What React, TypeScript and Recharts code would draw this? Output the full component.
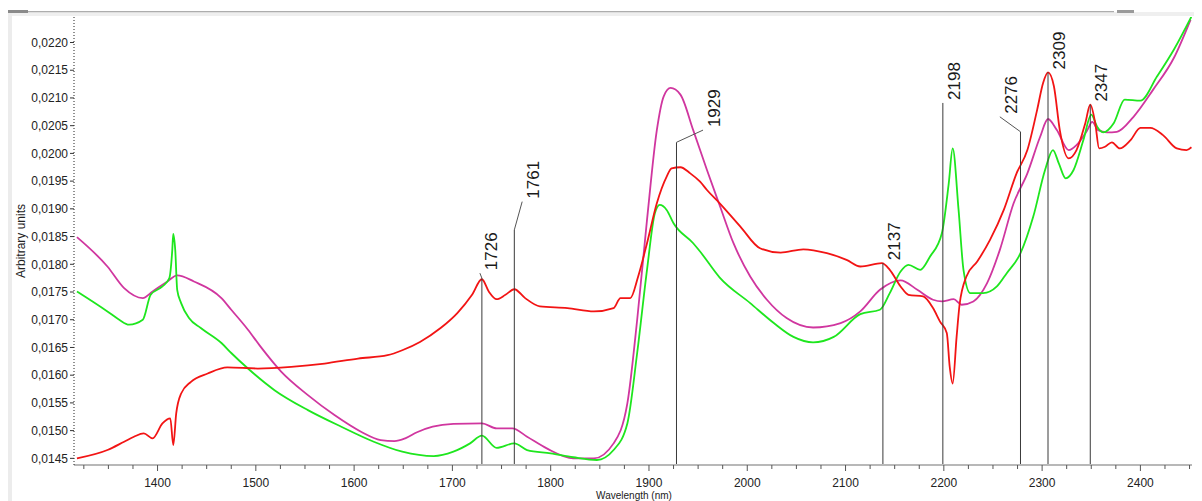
import React from 'react';
import { LineChart, Line, XAxis, YAxis, ReferenceLine, ReferenceDot } from 'recharts';

// ---- Data (wavelength in nm, arbitrary units) ----
const redWl = [1318, 1349, 1366, 1376, 1386, 1395, 1405, 1413, 1416, 1419, 1424, 1434, 1451, 1471, 1502, 1536, 1570, 1604, 1634, 1649, 1667, 1688, 1705, 1720, 1730, 1737, 1745, 1754, 1763, 1774, 1789, 1817, 1844, 1864, 1871, 1881, 1889, 1898, 1908, 1918, 1923, 1932, 1942, 1952, 1959, 1972, 1993, 2013, 2034, 2057, 2081, 2101, 2115, 2137, 2145, 2156, 2164, 2179, 2189, 2196, 2203, 2206, 2209, 2213, 2216, 2223, 2234, 2247, 2261, 2274, 2285, 2295, 2301, 2306, 2312, 2318, 2327, 2335, 2344, 2349, 2354, 2358, 2364, 2371, 2379, 2390, 2400, 2410, 2423, 2437, 2447, 2452];
const redVal = [0.01450, 0.01465, 0.01480, 0.01489, 0.01495, 0.01486, 0.01513, 0.01522, 0.01474, 0.01531, 0.01567, 0.01588, 0.01603, 0.01614, 0.01612, 0.01615, 0.01621, 0.01630, 0.01636, 0.01645, 0.01660, 0.01685, 0.01712, 0.01745, 0.01773, 0.01751, 0.01737, 0.01745, 0.01755, 0.01739, 0.01724, 0.01721, 0.01715, 0.01721, 0.01739, 0.01739, 0.01778, 0.01838, 0.01910, 0.01958, 0.01973, 0.01975, 0.01964, 0.01949, 0.01934, 0.01910, 0.01868, 0.01829, 0.01821, 0.01827, 0.01820, 0.01808, 0.01796, 0.01802, 0.01790, 0.01760, 0.01745, 0.01742, 0.01721, 0.01697, 0.01676, 0.01615, 0.01585, 0.01669, 0.01727, 0.01778, 0.01805, 0.01844, 0.01898, 0.01964, 0.02006, 0.02079, 0.02127, 0.02146, 0.02121, 0.02042, 0.01991, 0.02006, 0.02055, 0.02088, 0.02055, 0.02009, 0.02012, 0.02020, 0.02009, 0.02024, 0.02046, 0.02046, 0.02033, 0.02009, 0.02006, 0.02011];

const magentaWl = [1318, 1349, 1366, 1385, 1395, 1410, 1420, 1437, 1465, 1475, 1492, 1505, 1526, 1553, 1580, 1607, 1627, 1641, 1652, 1664, 1680, 1701, 1730, 1745, 1761, 1776, 1796, 1823, 1844, 1864, 1878, 1888, 1898, 1908, 1915, 1922, 1932, 1945, 1959, 1972, 1986, 2003, 2020, 2040, 2067, 2095, 2115, 2135, 2156, 2173, 2189, 2198, 2210, 2218, 2230, 2244, 2257, 2271, 2285, 2298, 2306, 2315, 2327, 2335, 2346, 2351, 2357, 2366, 2376, 2393, 2413, 2434, 2451];
const magentaVal = [0.01849, 0.01796, 0.01757, 0.01739, 0.01751, 0.01769, 0.01780, 0.01769, 0.01739, 0.01718, 0.01682, 0.01651, 0.01606, 0.01564, 0.01528, 0.01498, 0.01483, 0.01481, 0.01486, 0.01497, 0.01507, 0.01512, 0.01513, 0.01504, 0.01504, 0.01489, 0.01468, 0.01450, 0.01450, 0.01477, 0.01549, 0.01700, 0.01880, 0.02042, 0.02103, 0.02118, 0.02106, 0.02042, 0.01970, 0.01906, 0.01838, 0.01778, 0.01736, 0.01703, 0.01686, 0.01694, 0.01715, 0.01754, 0.01771, 0.01754, 0.01736, 0.01733, 0.01737, 0.01727, 0.01733, 0.01766, 0.01826, 0.01910, 0.01964, 0.02030, 0.02062, 0.02042, 0.02006, 0.02015, 0.02042, 0.02057, 0.02042, 0.02038, 0.02039, 0.02066, 0.02115, 0.02172, 0.02241];

const greenWl = [1318, 1349, 1361, 1371, 1385, 1393, 1405, 1412, 1415, 1416, 1418, 1420, 1424, 1432, 1444, 1465, 1475, 1492, 1519, 1553, 1587, 1620, 1649, 1681, 1701, 1718, 1730, 1745, 1763, 1776, 1800, 1823, 1847, 1864, 1878, 1888, 1898, 1906, 1911, 1918, 1925, 1945, 1952, 1972, 2003, 2027, 2047, 2067, 2088, 2115, 2135, 2145, 2156, 2164, 2176, 2186, 2198, 2205, 2209, 2215, 2220, 2227, 2240, 2254, 2264, 2278, 2291, 2303, 2311, 2317, 2324, 2332, 2342, 2350, 2356, 2362, 2373, 2384, 2400, 2417, 2434, 2452];
const greenVal = [0.01751, 0.01715, 0.01700, 0.01691, 0.01700, 0.01745, 0.01760, 0.01775, 0.01826, 0.01855, 0.01826, 0.01754, 0.01730, 0.01703, 0.01685, 0.01658, 0.01640, 0.01612, 0.01573, 0.01537, 0.01507, 0.01480, 0.01462, 0.01454, 0.01462, 0.01477, 0.01491, 0.01469, 0.01477, 0.01465, 0.01459, 0.01452, 0.01447, 0.01465, 0.01513, 0.01640, 0.01790, 0.01892, 0.01907, 0.01898, 0.01874, 0.01838, 0.01823, 0.01776, 0.01730, 0.01694, 0.01669, 0.01659, 0.01669, 0.01710, 0.01718, 0.01748, 0.01787, 0.01799, 0.01790, 0.01814, 0.01856, 0.01946, 0.02009, 0.01898, 0.01790, 0.01748, 0.01748, 0.01760, 0.01784, 0.01820, 0.01886, 0.01970, 0.02006, 0.01982, 0.01955, 0.01970, 0.02024, 0.02070, 0.02048, 0.02038, 0.02055, 0.02097, 0.02095, 0.02139, 0.02187, 0.02247];

const yTicks = [0.0145, 0.015, 0.0155, 0.016, 0.0165, 0.017, 0.0175, 0.018, 0.0185, 0.019, 0.0195, 0.02, 0.0205, 0.021, 0.0215, 0.022];
const xTicks = [1325, 1350, 1375, 1400, 1425, 1450, 1475, 1500, 1525, 1550, 1575, 1600, 1625, 1650, 1675, 1700, 1725, 1750, 1775, 1800, 1825, 1850, 1875, 1900, 1925, 1950, 1975, 2000, 2025, 2050, 2075, 2100, 2125, 2150, 2175, 2200, 2225, 2250, 2275, 2300, 2325, 2350, 2375, 2400, 2425, 2450];
const xLabeled = [1400, 1500, 1600, 1700, 1800, 1900, 2000, 2100, 2200, 2300, 2400];

// Peak annotations: label, wavelength of the marker line, top of line, optional leader end
const peakLabels = ['1726', '1761', '1929', '2137', '2198', '2276', '2309', '2347'];
const peakWl = [1730, 1763, 1928, 2138, 2199, 2278, 2306, 2349];
const peakTop = [0.01775, 0.01862, 0.02020, 0.01802, 0.02091, 0.02039, 0.02146, 0.02088];
const leaderWl = [1728, 1771, 1955, null, null, 2257, null, null];
const leaderVal = [0.01784, 0.01913, 0.02042, null, null, 0.02066, null, null];

const X_DOMAIN: [number, number] = [1315, 2452.5];
const Y_DOMAIN: [number, number] = [0.01438, 0.02246];

const toPoints = (wl: number[], val: number[]) => wl.map((w, i) => ({ wl: w, v: val[i] }));
const redData = toPoints(redWl, redVal);
const magentaData = toPoints(magentaWl, magentaVal);
const greenData = toPoints(greenWl, greenVal);

const FONT = '"Liberation Sans", Arial, sans-serif';

const XTick = (props: any) => {
  const { x, y, payload } = props;
  const v = payload.value;
  const major = xLabeled.includes(v);
  return (
    <g>
      <line x1={x} x2={x} y1={y} y2={y + (major ? 6 : 4)} stroke="#555" strokeWidth={1} />
      {major && (
        <text x={x} y={y + 21.5} textAnchor="middle" fontSize={12} fill="#222" fontFamily={FONT}>
          {v}
        </text>
      )}
    </g>
  );
};

const makeLabelShape = (label: string) => (p: any) => {
  const tx = p.cx + 17;
  const ty = p.cy - 3;
  return (
    <text
      x={tx}
      y={ty}
      transform={`rotate(-90 ${tx} ${ty})`}
      textAnchor="start"
      fontSize={17}
      fill="#1a1a1a"
      fontFamily={FONT}
    >
      {label}
    </text>
  );
};

export default function App() {
  return (
    <div style={{ position: 'relative', width: 1194, height: 493, fontFamily: FONT }}>
      <LineChart width={1194} height={493} margin={{ top: 9, right: 10, bottom: 0, left: 0 }}>
        <XAxis
          type="number"
          dataKey="wl"
          domain={X_DOMAIN}
          allowDataOverflow
          ticks={xTicks}
          interval={0}
          tick={<XTick />}
          tickLine={false}
          tickSize={0}
          tickMargin={0}
          height={36}
          axisLine={{ stroke: '#b8b8b8', strokeWidth: 2 }}
        />
        <YAxis
          type="number"
          dataKey="v"
          domain={Y_DOMAIN}
          allowDataOverflow
          ticks={yTicks}
          interval={0}
          width={66}
          tickSize={4}
          tickMargin={2}
          tickFormatter={(v: number) => v.toFixed(4).replace('.', ',')}
          tick={{ fontSize: 12, fill: '#222', fontFamily: FONT }}
          tickLine={{ stroke: '#333' }}
          axisLine={{ stroke: '#222', strokeDasharray: '1 2' }}
        />
        <Line data={magentaData} dataKey="v" type="monotone" stroke="#d0369f" strokeWidth={1.8} dot={false} activeDot={false} isAnimationActive={false} />
        <Line data={greenData} dataKey="v" type="monotone" stroke="#1ee61e" strokeWidth={1.8} dot={false} activeDot={false} isAnimationActive={false} />
        <Line data={redData} dataKey="v" type="monotone" stroke="#f21414" strokeWidth={1.8} dot={false} activeDot={false} isAnimationActive={false} />
        {peakLabels.map((lab, i) => (
          <ReferenceLine
            key={'l' + lab}
            segment={[{ x: peakWl[i], y: Y_DOMAIN[0] }, { x: peakWl[i], y: peakTop[i] }]}
            stroke="#3a3a3a"
            strokeWidth={1}
            ifOverflow="visible"
          />
        ))}
        {peakLabels.map((lab, i) =>
          leaderWl[i] != null ? (
            <ReferenceLine
              key={'d' + lab}
              segment={[{ x: peakWl[i], y: peakTop[i] }, { x: leaderWl[i] as number, y: leaderVal[i] as number }]}
              stroke="#555"
              strokeWidth={1}
              ifOverflow="visible"
            />
          ) : null
        )}
        {peakLabels.map((lab, i) => (
          <ReferenceDot
            key={'t' + lab}
            x={leaderWl[i] != null ? (leaderWl[i] as number) : peakWl[i]}
            y={leaderVal[i] != null ? (leaderVal[i] as number) : peakTop[i]}
            r={3}
            ifOverflow="visible"
            shape={makeLabelShape(lab)}
          />
        ))}
      </LineChart>
      <svg
        width={1194}
        height={493}
        style={{ position: 'absolute', left: 0, top: 0, pointerEvents: 'none', overflow: 'visible' }}
      >
        <rect x={0} y={4} width={1194} height={4} fill="#efefef" />
        <rect x={0} y={4} width={4} height={489} fill="#ececec" />
        <line x1={0} x2={1106} y1={3.7} y2={3.7} stroke="#9a9a9a" strokeWidth={1} />
        <rect x={0} y={2} width={20} height={3} fill="#8a8a8a" />
        <rect x={1109} y={2} width={17} height={3} fill="#9a9a9a" />
        <text
          x={17}
          y={233}
          transform="rotate(-90 17 233)"
          textAnchor="middle"
          fontSize={12}
          fill="#222"
          fontFamily={FONT}
        >
          Arbitrary units
        </text>
        <text x={626} y={490.5} textAnchor="middle" fontSize={10} fill="#222" fontFamily={FONT}>
          Wavelength (nm)
        </text>
      </svg>
    </div>
  );
}
